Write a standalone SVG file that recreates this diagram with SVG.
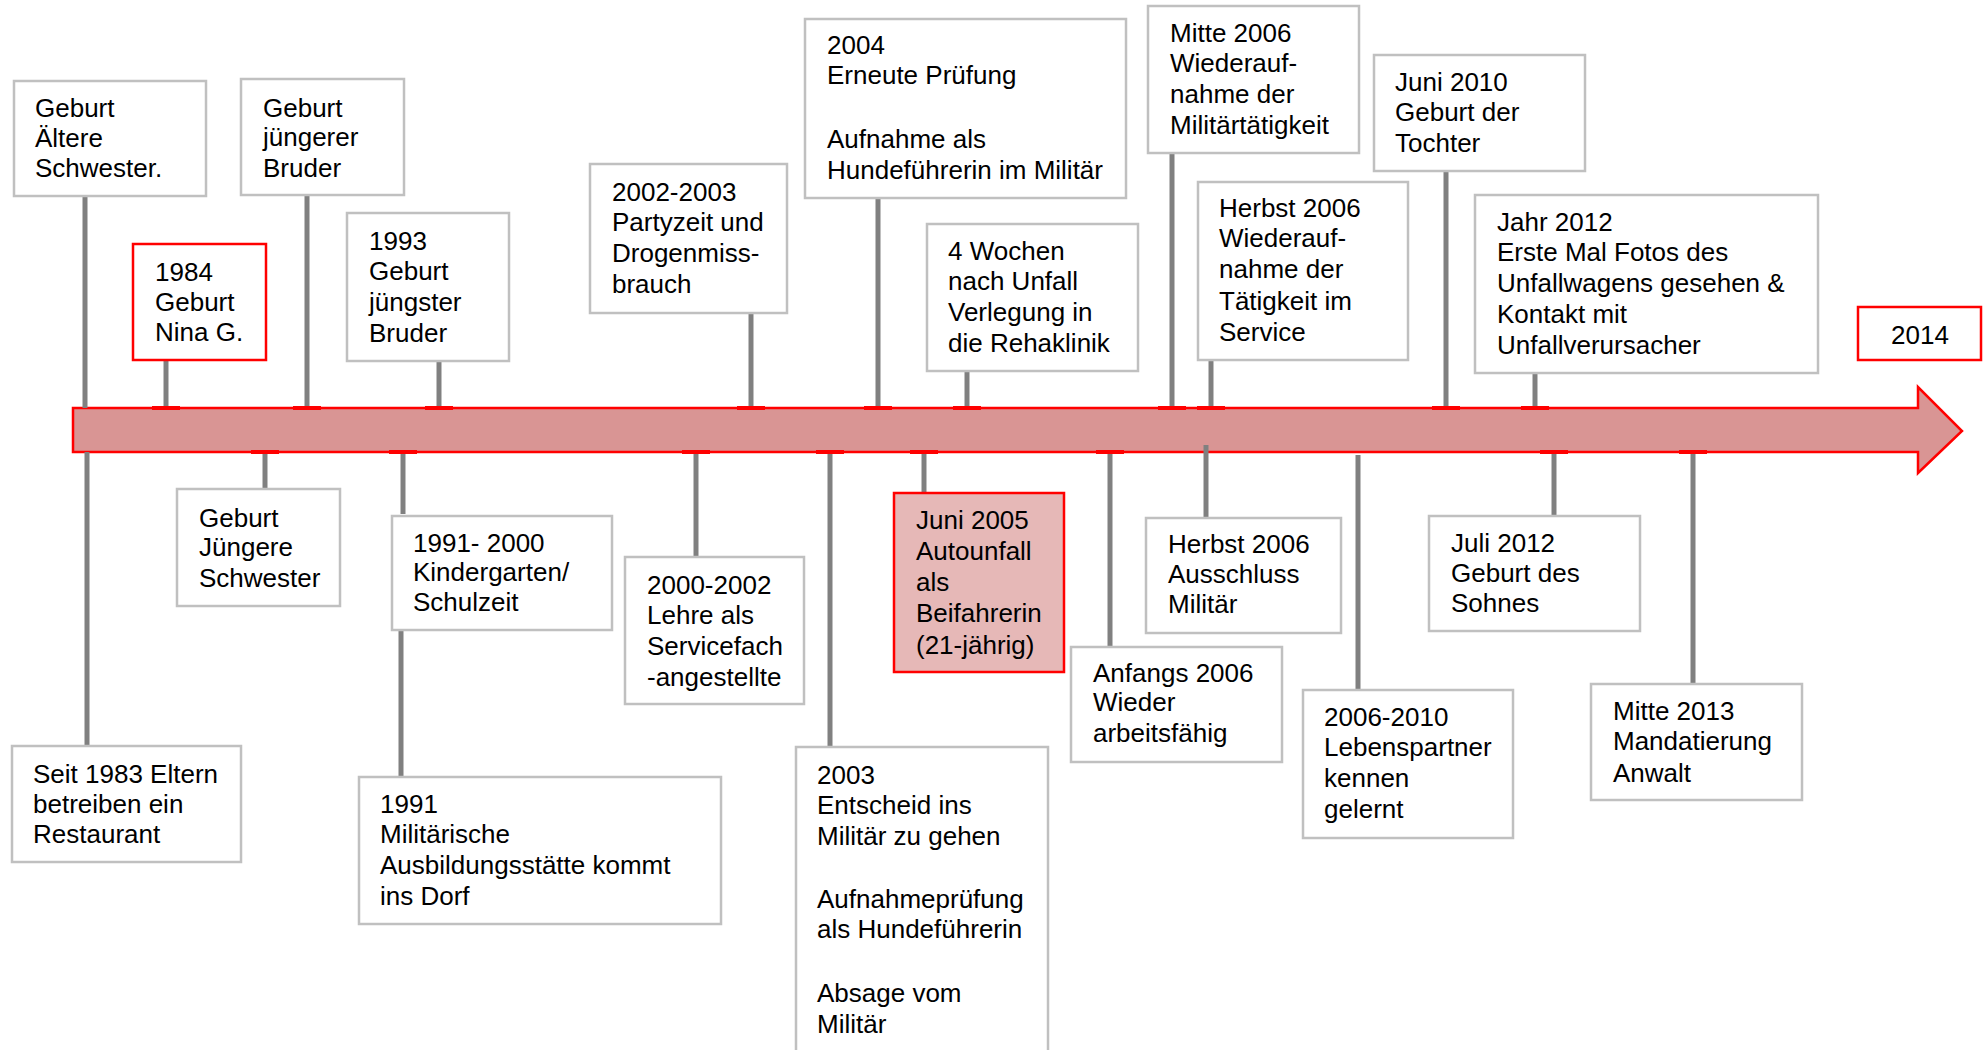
<svg xmlns="http://www.w3.org/2000/svg" width="1984" height="1050" viewBox="0 0 1984 1050">
  <style>
    .box { fill: #ffffff; stroke: #c0c0c0; stroke-width: 2.5; }
    .hot { fill: #ffffff; stroke: #ff0000; stroke-width: 2.5; }
    .hotfill { fill: #e6b8b7; stroke: #ff0000; stroke-width: 2.5; }
    text { font-family: "Liberation Sans", Arial, sans-serif; font-size: 26px; fill: #000000; }
    .stem { stroke: #808080; stroke-width: 5; fill: none; }
    .tick { fill: #ff0000; }
  </style>

  <!-- timeline arrow -->
  <g id="timeline">
    <path d="M73,408 H1918 V387 L1962,431 L1918,473 V452 H73 Z" fill="#d99594" stroke="#ff0000" stroke-width="2.5"/>
  </g>

  <!-- stems linking events to the timeline -->
  <g id="connectors">
    <line class="stem" x1="85" y1="197" x2="85" y2="408"/>
    <line class="stem" x1="166" y1="360" x2="166" y2="408"/>
    <line class="stem" x1="307" y1="195" x2="307" y2="408"/>
    <line class="stem" x1="439" y1="361" x2="439" y2="408"/>
    <line class="stem" x1="87" y1="452" x2="87" y2="746"/>
    <line class="stem" x1="265" y1="452" x2="265" y2="489"/>
    <line class="stem" x1="403" y1="452" x2="403" y2="514"/>
    <line class="stem" x1="401" y1="630" x2="401" y2="777"/>
    <line class="stem" x1="751" y1="313" x2="751" y2="408"/>
    <line class="stem" x1="878" y1="198" x2="878" y2="408"/>
    <line class="stem" x1="967" y1="371" x2="967" y2="408"/>
    <line class="stem" x1="696" y1="452" x2="696" y2="557"/>
    <line class="stem" x1="830" y1="452" x2="830" y2="747"/>
    <line class="stem" x1="924" y1="452" x2="924" y2="493"/>
    <line class="stem" x1="1110" y1="452" x2="1110" y2="647"/>
    <line class="stem" x1="1172" y1="153" x2="1172" y2="408"/>
    <line class="stem" x1="1211" y1="360" x2="1211" y2="408"/>
    <line class="stem" x1="1206" y1="445" x2="1206" y2="518"/>
    <line class="stem" x1="1358" y1="455" x2="1358" y2="690"/>
    <line class="stem" x1="1446" y1="171" x2="1446" y2="406"/>
    <line class="stem" x1="1535" y1="373" x2="1535" y2="408"/>
    <line class="stem" x1="1554" y1="452" x2="1554" y2="516"/>
    <line class="stem" x1="1693" y1="452" x2="1693" y2="684"/>
    <!-- red joints on the arrow edges -->
    <rect class="tick" x="152" y="406" width="28" height="4"/>
    <rect class="tick" x="293" y="406" width="28" height="4"/>
    <rect class="tick" x="425" y="406" width="28" height="4"/>
    <rect class="tick" x="737" y="406" width="28" height="4"/>
    <rect class="tick" x="864" y="406" width="28" height="4"/>
    <rect class="tick" x="953" y="406" width="28" height="4"/>
    <rect class="tick" x="1158" y="406" width="28" height="4"/>
    <rect class="tick" x="1197" y="406" width="28" height="4"/>
    <rect class="tick" x="1432" y="406" width="28" height="4"/>
    <rect class="tick" x="1521" y="406" width="28" height="4"/>
    <rect class="tick" x="251" y="450" width="28" height="4"/>
    <rect class="tick" x="389" y="450" width="28" height="4"/>
    <rect class="tick" x="682" y="450" width="28" height="4"/>
    <rect class="tick" x="816" y="450" width="28" height="4"/>
    <rect class="tick" x="910" y="450" width="28" height="4"/>
    <rect class="tick" x="1096" y="450" width="28" height="4"/>
    <rect class="tick" x="1540" y="450" width="28" height="4"/>
    <rect class="tick" x="1679" y="450" width="28" height="4"/>
  </g>

  <!-- events above the timeline -->
  <g id="aeltere-schwester">
    <rect class="box" x="14" y="81" width="192" height="115"/>
    <text x="35"><tspan x="35" y="117">Geburt</tspan><tspan x="35" y="147">Ältere</tspan><tspan x="35" y="177">Schwester.</tspan></text>
  </g>
  <g id="geburt-nina">
    <rect class="hot" x="133" y="244" width="133" height="116"/>
    <text><tspan x="155" y="281">1984</tspan><tspan x="155" y="311">Geburt</tspan><tspan x="155" y="341">Nina G.</tspan></text>
  </g>
  <g id="juengerer-bruder">
    <rect class="box" x="241" y="79" width="163" height="116"/>
    <text><tspan x="263" y="117">Geburt</tspan><tspan x="263" y="146">jüngerer</tspan><tspan x="263" y="177">Bruder</tspan></text>
  </g>
  <g id="juengster-bruder">
    <rect class="box" x="347" y="213" width="162" height="148"/>
    <text><tspan x="369" y="250">1993</tspan><tspan x="369" y="280">Geburt</tspan><tspan x="369" y="311">jüngster</tspan><tspan x="369" y="342">Bruder</tspan></text>
  </g>
  <g id="partyzeit">
    <rect class="box" x="590" y="164" width="197" height="149"/>
    <text><tspan x="612" y="201">2002-2003</tspan><tspan x="612" y="231">Partyzeit und</tspan><tspan x="612" y="262">Drogenmiss-</tspan><tspan x="612" y="293">brauch</tspan></text>
  </g>
  <g id="erneute-pruefung">
    <rect class="box" x="805" y="19" width="321" height="179"/>
    <text><tspan x="827" y="54">2004</tspan><tspan x="827" y="84">Erneute Prüfung</tspan><tspan x="827" y="148">Aufnahme als</tspan><tspan x="827" y="179">Hundeführerin im Militär</tspan></text>
  </g>
  <g id="rehaklinik">
    <rect class="box" x="927" y="224" width="211" height="147"/>
    <text><tspan x="948" y="260">4 Wochen</tspan><tspan x="948" y="290">nach Unfall</tspan><tspan x="948" y="321">Verlegung in</tspan><tspan x="948" y="352">die Rehaklinik</tspan></text>
  </g>
  <g id="militaertaetigkeit">
    <rect class="box" x="1148" y="6" width="211" height="147"/>
    <text><tspan x="1170" y="42">Mitte 2006</tspan><tspan x="1170" y="72">Wiederauf-</tspan><tspan x="1170" y="103">nahme der</tspan><tspan x="1170" y="134">Militärtätigkeit</tspan></text>
  </g>
  <g id="service">
    <rect class="box" x="1198" y="182" width="210" height="178"/>
    <text><tspan x="1219" y="217">Herbst 2006</tspan><tspan x="1219" y="247">Wiederauf-</tspan><tspan x="1219" y="278">nahme der</tspan><tspan x="1219" y="310">Tätigkeit im</tspan><tspan x="1219" y="341">Service</tspan></text>
  </g>
  <g id="tochter">
    <rect class="box" x="1374" y="55" width="211" height="116"/>
    <text><tspan x="1395" y="91">Juni 2010</tspan><tspan x="1395" y="121">Geburt der</tspan><tspan x="1395" y="152">Tochter</tspan></text>
  </g>
  <g id="unfallwagen">
    <rect class="box" x="1475" y="195" width="343" height="178"/>
    <text><tspan x="1497" y="231">Jahr 2012</tspan><tspan x="1497" y="261">Erste Mal Fotos des</tspan><tspan x="1497" y="292">Unfallwagens gesehen &amp;</tspan><tspan x="1497" y="323">Kontakt mit</tspan><tspan x="1497" y="354">Unfallverursacher</tspan></text>
  </g>
  <g id="jahr-2014">
    <rect class="hot" x="1858" y="307" width="123" height="53"/>
    <text x="1920" y="344" text-anchor="middle">2014</text>
  </g>

  <!-- events below the timeline -->
  <g id="restaurant">
    <rect class="box" x="12" y="746" width="229" height="116"/>
    <text><tspan x="33" y="783">Seit 1983 Eltern</tspan><tspan x="33" y="813">betreiben ein</tspan><tspan x="33" y="843">Restaurant</tspan></text>
  </g>
  <g id="juengere-schwester">
    <rect class="box" x="177" y="489" width="163" height="117"/>
    <text><tspan x="199" y="527">Geburt</tspan><tspan x="199" y="556">Jüngere</tspan><tspan x="199" y="587">Schwester</tspan></text>
  </g>
  <g id="schulzeit">
    <rect class="box" x="392" y="516" width="220" height="114"/>
    <text><tspan x="413" y="552">1991- 2000</tspan><tspan x="413" y="581">Kindergarten/</tspan><tspan x="413" y="611">Schulzeit</tspan></text>
  </g>
  <g id="ausbildungsstaette">
    <rect class="box" x="359" y="777" width="362" height="147"/>
    <text><tspan x="380" y="813">1991</tspan><tspan x="380" y="843">Militärische</tspan><tspan x="380" y="874">Ausbildungsstätte kommt</tspan><tspan x="380" y="905">ins Dorf</tspan></text>
  </g>
  <g id="lehre">
    <rect class="box" x="625" y="557" width="179" height="147"/>
    <text><tspan x="647" y="594">2000-2002</tspan><tspan x="647" y="624">Lehre als</tspan><tspan x="647" y="655">Servicefach</tspan><tspan x="647" y="686">-angestellte</tspan></text>
  </g>
  <g id="entscheid-militaer">
    <rect class="box" x="796" y="747" width="252" height="320"/>
    <text><tspan x="817" y="784">2003</tspan><tspan x="817" y="814">Entscheid ins</tspan><tspan x="817" y="845">Militär zu gehen</tspan><tspan x="817" y="908">Aufnahmeprüfung</tspan><tspan x="817" y="938">als Hundeführerin</tspan><tspan x="817" y="1002">Absage vom</tspan><tspan x="817" y="1033">Militär</tspan></text>
  </g>
  <g id="autounfall">
    <rect class="hotfill" x="894" y="493" width="170" height="179"/>
    <text><tspan x="916" y="529">Juni 2005</tspan><tspan x="916" y="560">Autounfall</tspan><tspan x="916" y="591">als</tspan><tspan x="916" y="622">Beifahrerin</tspan><tspan x="916" y="654">(21-jährig)</tspan></text>
  </g>
  <g id="arbeitsfaehig">
    <rect class="box" x="1071" y="647" width="211" height="115"/>
    <text><tspan x="1093" y="682">Anfangs 2006</tspan><tspan x="1093" y="711">Wieder</tspan><tspan x="1093" y="742">arbeitsfähig</tspan></text>
  </g>
  <g id="ausschluss">
    <rect class="box" x="1146" y="518" width="195" height="115"/>
    <text><tspan x="1168" y="553">Herbst 2006</tspan><tspan x="1168" y="583">Ausschluss</tspan><tspan x="1168" y="613">Militär</tspan></text>
  </g>
  <g id="lebenspartner">
    <rect class="box" x="1303" y="690" width="210" height="148"/>
    <text><tspan x="1324" y="726">2006-2010</tspan><tspan x="1324" y="756">Lebenspartner</tspan><tspan x="1324" y="787">kennen</tspan><tspan x="1324" y="818">gelernt</tspan></text>
  </g>
  <g id="sohn">
    <rect class="box" x="1429" y="516" width="211" height="115"/>
    <text><tspan x="1451" y="552">Juli 2012</tspan><tspan x="1451" y="582">Geburt des</tspan><tspan x="1451" y="612">Sohnes</tspan></text>
  </g>
  <g id="anwalt">
    <rect class="box" x="1591" y="684" width="211" height="116"/>
    <text><tspan x="1613" y="720">Mitte 2013</tspan><tspan x="1613" y="750">Mandatierung</tspan><tspan x="1613" y="782">Anwalt</tspan></text>
  </g>
</svg>
